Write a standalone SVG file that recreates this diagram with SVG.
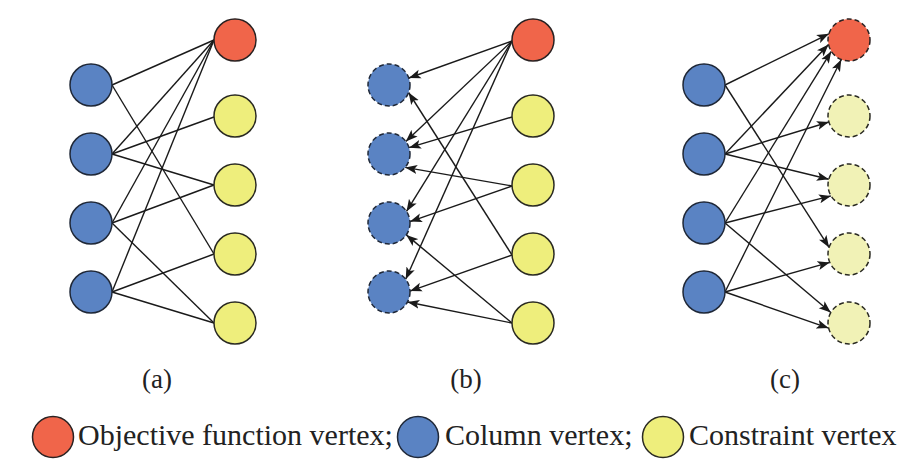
<svg xmlns="http://www.w3.org/2000/svg" width="919" height="472" viewBox="0 0 919 472">
<defs>
<marker id="arr" markerUnits="userSpaceOnUse" markerWidth="13" markerHeight="10" refX="12" refY="4.5" orient="auto" viewBox="0 0 13 9">
<path d="M0,0 L12,4.5 L0,9 L2.8,4.5 z" fill="#1a1a1a"/>
</marker>
<style>
.obj{fill:#f0654a;stroke:#2a2222;stroke-width:1.5}
.col{fill:#5a83c3;stroke:#1f2838;stroke-width:1.5}
.con{fill:#eeee7c;stroke:#2a2a22;stroke-width:1.5}
.conl{fill:#f1f2b6;stroke:#2a2a22;stroke-width:1.5}
.dash{stroke-dasharray:5 3}
.e{stroke:#1a1a1a;stroke-width:1.4;fill:none}
.ea{stroke:#1a1a1a;stroke-width:1.4;fill:none;marker-end:url(#arr)}
.lbl{font-family:"Liberation Serif","Times New Roman",serif;font-size:27px;fill:#222;text-anchor:middle}
.leg{font-family:"Liberation Serif","Times New Roman",serif;font-size:30px;fill:#222}
</style>
</defs>
<rect width="919" height="472" fill="#ffffff"/>

<g id="connectors">
<g id="edges-a">
<line class="e" x1="112" y1="85" x2="214" y2="40"/>
<line class="e" x1="112" y1="85" x2="214" y2="254"/>
<line class="e" x1="112" y1="154" x2="214" y2="40"/>
<line class="e" x1="112" y1="154" x2="214" y2="117"/>
<line class="e" x1="112" y1="154" x2="214" y2="185"/>
<line class="e" x1="112" y1="223" x2="214" y2="40"/>
<line class="e" x1="112" y1="223" x2="214" y2="185"/>
<line class="e" x1="112" y1="223" x2="214" y2="323"/>
<line class="e" x1="112" y1="292" x2="214" y2="40"/>
<line class="e" x1="112" y1="292" x2="214" y2="254"/>
<line class="e" x1="112" y1="292" x2="214" y2="323"/>
</g>
<g id="edges-b">
<line class="ea" x1="512" y1="41" x2="408.8" y2="78"/>
<line class="ea" x1="512" y1="255" x2="408.6" y2="92.5"/>
<line class="ea" x1="512" y1="41" x2="405.8" y2="141.4"/>
<line class="ea" x1="512" y1="117" x2="409" y2="147.7"/>
<line class="ea" x1="512" y1="186" x2="405.2" y2="167.4"/>
<line class="ea" x1="512" y1="41" x2="406.5" y2="211.4"/>
<line class="ea" x1="512" y1="186" x2="410" y2="221.6"/>
<line class="ea" x1="512" y1="323" x2="406.3" y2="234.9"/>
<line class="ea" x1="512" y1="41" x2="405.7" y2="279.3"/>
<line class="ea" x1="512" y1="255" x2="410" y2="291.1"/>
<line class="ea" x1="512" y1="323" x2="407.5" y2="302"/>
</g>
<g id="edges-c">
<line class="ea" x1="725" y1="85" x2="828.9" y2="33.8"/>
<line class="ea" x1="725" y1="85" x2="829.1" y2="247.4"/>
<line class="ea" x1="725" y1="154" x2="828.5" y2="44.6"/>
<line class="ea" x1="725" y1="154" x2="828.9" y2="122"/>
<line class="ea" x1="725" y1="154" x2="828.8" y2="179.2"/>
<line class="ea" x1="725" y1="223" x2="831.3" y2="51.3"/>
<line class="ea" x1="725" y1="223" x2="831" y2="195.9"/>
<line class="ea" x1="725" y1="223" x2="830.8" y2="312.5"/>
<line class="ea" x1="725" y1="292" x2="841.3" y2="59.5"/>
<line class="ea" x1="725" y1="292" x2="829.7" y2="262.4"/>
<line class="ea" x1="725" y1="292" x2="828.6" y2="328.1"/>
</g>
</g>

<g id="panel-a">
<g id="a-col1"><circle class="col" cx="91" cy="85" r="21"/></g>
<g id="a-col2"><circle class="col" cx="91" cy="154" r="21"/></g>
<g id="a-col3"><circle class="col" cx="91" cy="223" r="21"/></g>
<g id="a-col4"><circle class="col" cx="91" cy="292" r="21"/></g>
<g id="a-obj"><circle class="obj" cx="235" cy="40" r="21"/></g>
<g id="a-con1"><circle class="con" cx="235" cy="116" r="21"/></g>
<g id="a-con2"><circle class="con" cx="235" cy="185" r="21"/></g>
<g id="a-con3"><circle class="con" cx="235" cy="254" r="21"/></g>
<g id="a-con4"><circle class="con" cx="235" cy="323" r="21"/></g>
<text class="lbl" x="157" y="388">(a)</text>
</g>

<g id="panel-b">
<g id="b-col1"><circle class="col dash" cx="389" cy="85" r="21"/></g>
<g id="b-col2"><circle class="col dash" cx="389" cy="154" r="21"/></g>
<g id="b-col3"><circle class="col dash" cx="389" cy="223" r="21"/></g>
<g id="b-col4"><circle class="col dash" cx="389" cy="292" r="21"/></g>
<g id="b-obj"><circle class="obj" cx="533" cy="40" r="21"/></g>
<g id="b-con1"><circle class="con" cx="533" cy="116" r="21"/></g>
<g id="b-con2"><circle class="con" cx="533" cy="185" r="21"/></g>
<g id="b-con3"><circle class="con" cx="533" cy="254" r="21"/></g>
<g id="b-con4"><circle class="con" cx="533" cy="323" r="21"/></g>
<text class="lbl" x="466" y="388">(b)</text>
</g>

<g id="panel-c">
<g id="c-col1"><circle class="col" cx="704" cy="85" r="21"/></g>
<g id="c-col2"><circle class="col" cx="704" cy="154" r="21"/></g>
<g id="c-col3"><circle class="col" cx="704" cy="223" r="21"/></g>
<g id="c-col4"><circle class="col" cx="704" cy="292" r="21"/></g>
<g id="c-obj"><circle class="obj dash" cx="849" cy="40" r="21"/></g>
<g id="c-con1"><circle class="conl dash" cx="849" cy="116" r="21"/></g>
<g id="c-con2"><circle class="conl dash" cx="849" cy="185" r="21"/></g>
<g id="c-con3"><circle class="conl dash" cx="849" cy="254" r="21"/></g>
<g id="c-con4"><circle class="conl dash" cx="849" cy="323" r="21"/></g>
<text class="lbl" x="785" y="388">(c)</text>
</g>

<g id="legend">
<g id="legend-obj"><circle class="obj" cx="53" cy="437" r="20.5"/><text class="leg" x="78" y="445">Objective function vertex;</text></g>
<g id="legend-col"><circle class="col" cx="418" cy="437" r="20.5"/><text class="leg" x="445" y="445">Column vertex;</text></g>
<g id="legend-con"><circle class="con" cx="663" cy="437" r="20.5"/><text class="leg" x="689" y="445">Constraint vertex</text></g>
</g>
</svg>
